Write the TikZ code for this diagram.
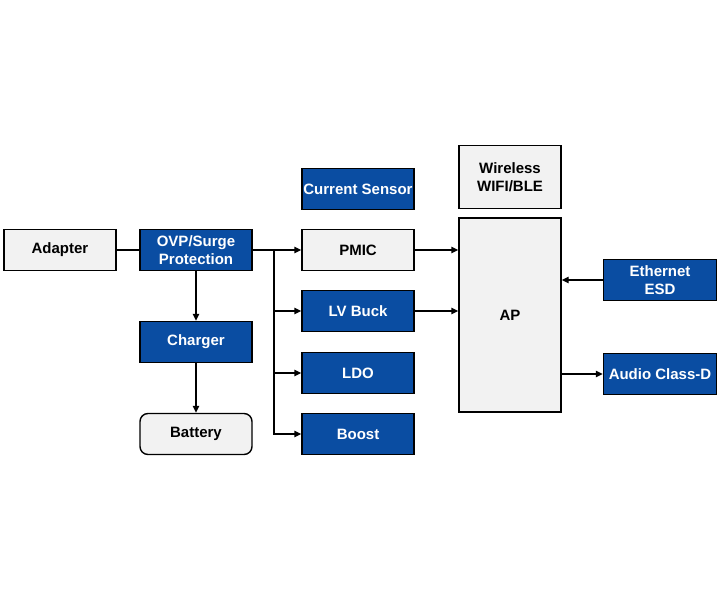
\documentclass[tikz,border=0pt]{standalone}
\usepackage{fontspec}
\setmainfont{Liberation Sans}
\usetikzlibrary{arrows.meta, positioning, calc}
\definecolor{chipblue}{RGB}{10, 77, 162}
\definecolor{boxgrey}{RGB}{242, 242, 242}
\tikzset{
  blk/.style   = {rectangle, draw=black, line width=1.4pt, fill=chipblue, text=white, minimum width=112pt, minimum height=41pt, inner sep=0pt, align=center, font=\fontsize{15}{18}\selectfont\bfseries},
  gblk/.style  = {blk, fill=boxgrey, text=black},
  conn/.style  = {line width=1.4pt, black},
  arr/.style   = {conn, -{Triangle[length=7pt, width=6.5pt]}},
}

\begin{document}
\begin{tikzpicture}[x=1pt, y=-1pt]
  % bounding box = image frame
  \useasboundingbox (0,0) rectangle (720,600);

  % power path
  \node[gblk] (adapter) at (60,250) {Adapter};
  \node[blk] (ovp) at (196,250) {OVP/Surge\\Protection};
  \node[blk] (charger) at (196,342) {Charger};
  \node[gblk, rounded corners=8pt] (battery) at (196,434) {Battery};

  % rails
  \node[blk] (csense) at (358,189) {Current Sensor};
  \node[gblk] (pmic) at (358,250) {PMIC};
  \node[blk] (lvbuck) at (358,311) {LV Buck};
  \node[blk] (ldo) at (358,373) {LDO};
  \node[blk] (boost) at (358,434) {Boost};

  % processor side
  \node[gblk, minimum width=102pt, minimum height=63pt] (wireless) at (510,177) {Wireless\\WIFI/BLE};
  \node[gblk, minimum width=102pt, minimum height=194pt] (ap) at (510,315) {AP};
  \node[blk, minimum width=113pt] (eth) at (660,280) {Ethernet\\ESD};
  \node[blk, minimum width=113pt] (audio) at (660,374) {Audio Class-D};

  \coordinate (bus) at (274,250);

  \draw[conn] (adapter) -- (ovp);
  \draw[arr] (ovp) -- (charger);
  \draw[arr] (charger) -- (battery);

  \draw[arr] (ovp.east) -- (pmic.west);
  \draw[arr] (bus) |- (boost.west);
  \draw[arr] (bus |- lvbuck) -- (lvbuck.west);
  \draw[arr] (bus |- ldo) -- (ldo.west);

  \draw[arr] (pmic.east) -- (ap.west |- pmic);
  \draw[arr] (lvbuck.east) -- (ap.west |- lvbuck);
  \draw[arr] (eth.west) -- (ap.east |- eth);
  \draw[arr] (ap.east |- audio) -- (audio.west);
\end{tikzpicture}
\end{document}
